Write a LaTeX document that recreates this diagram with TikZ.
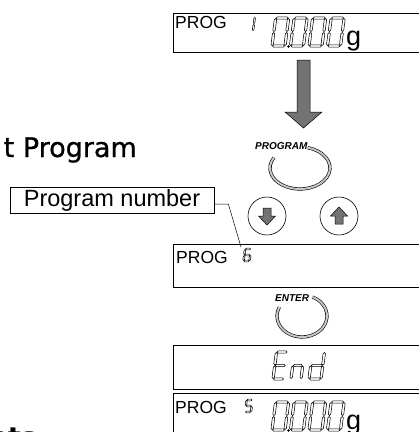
\documentclass[tikz,border=0pt]{standalone}
\usepackage{fontspec}
\setmainfont{Liberation Sans}
\newfontfamily\titlefont[FakeBold=0.8]{DejaVu Sans}
\tikzset{
  disp/.style={draw=black, line width=0.8pt},
  lcd/.style={draw=black, line width=0.55pt, fill=white, line join=miter},
  btnarc/.style={draw=black, line width=0.6pt, double=gray!45, double distance=2pt},
  btn/.style={circle, draw=black, line width=0.6pt, minimum size=38pt, inner sep=0pt},
  arrowfill/.style={fill=black!55, draw=black, line width=0.5pt},
  proglbl/.style={anchor=base west, font=\fontsize{17.5}{17.5}\selectfont, inner sep=0pt},
  keylbl/.style={font=\bfseries\itshape\fontsize{10}{10}\selectfont, inner sep=0pt},
}
% horizontal / vertical hexagonal LCD segments
\newcommand\lcdhseg[3]{\draw[lcd] ({#1},{#3}) -- ({#1+\lcdT},{#3-\lcdT}) -- ({#2-\lcdT},{#3-\lcdT}) -- ({#2},{#3}) -- ({#2-\lcdT},{#3+\lcdT}) -- ({#1+\lcdT},{#3+\lcdT}) -- cycle;}
\newcommand\lcdvseg[3]{\draw[lcd] ({#1},{#2}) -- ({#1+\lcdT},{#2+\lcdT}) -- ({#1+\lcdT},{#3-\lcdT}) -- ({#1},{#3}) -- ({#1-\lcdT},{#3-\lcdT}) -- ({#1-\lcdT},{#2+\lcdT}) -- cycle;}
\def\lcdsega{\lcdhseg{\lcdG}{\lcdW-\lcdG}{-\lcdH}}
\def\lcdsegb{\lcdvseg{\lcdW}{-\lcdH+\lcdG}{-\lcdH/2-\lcdG}}
\def\lcdsegc{\lcdvseg{\lcdW}{-\lcdH/2+\lcdG}{-\lcdG}}
\def\lcdsegd{\lcdhseg{\lcdG}{\lcdW-\lcdG}{0}}
\def\lcdsege{\lcdvseg{0}{-\lcdH/2+\lcdG}{-\lcdG}}
\def\lcdsegf{\lcdvseg{0}{-\lcdH+\lcdG}{-\lcdH/2-\lcdG}}
\def\lcdsegg{\lcdhseg{\lcdG}{\lcdW-\lcdG}{-\lcdH/2}}
% #1 half thickness, #2 x, #3 y(bottom), #4 width, #5 height, #6 segments
\newcommand\lcddigit[6]{%
  \begin{scope}[shift={(#2,#3)}, xslant=0.13]
    \def\lcdT{#1}\def\lcdG{0.5}\def\lcdW{#4}\def\lcdH{#5}%
    \foreach \s in {#6}{\csname lcdseg\s\endcsname}
  \end{scope}}
\begin{document}
\begin{tikzpicture}[x=1pt, y=-1pt]
\useasboundingbox (0,0) rectangle (419,432);
\clip (0,0) rectangle (419,432);

% title fragments
\node[anchor=base east, inner sep=0pt, font=\titlefont\fontsize{27}{27}\selectfont] (title) at (137,157) {t Program};
\node[anchor=base east, inner sep=0pt, font=\titlefont\bfseries\fontsize{27}{27}\selectfont] (bottomtitle) at (37,446.5) {nts};

% display 1
\draw[disp] (173,13) rectangle (440,52);
\node[proglbl] (prog1) at (175,28) {PROG};
\lcddigit{0.8}{248}{31}{5}{14}{b,c}
\foreach \xx in {272,290.5,309,327.5}{\lcddigit{1.2}{\xx}{46}{13}{28}{a,b,c,d,e,f}}
\fill (288.5,46.5) circle (1.3pt);
\node[anchor=base west, inner sep=0pt, font=\fontsize{27}{27}\selectfont] (g1) at (346,45) {g};

% big arrow
\draw[arrowfill] (297,60) -- (310,60) -- (310,112) -- (322,112) -- (303.5,128) -- (285,112) -- (297,112) -- cycle;

% PROGRAM key
\node[keylbl, anchor=base west] (prog) at (255,149) {PROGRAM};
\draw[btnarc] (300,168) ++(-75:30 and 21) arc[start angle=-75, end angle=210, x radius=30, y radius=21];

% up / down keys
\node[btn] (dn) at (267,216) {};
\node[btn] (up) at (339,216) {};
\draw[arrowfill] (263,208) -- (271,208) -- (271,216) -- (275.5,216) -- (267,225) -- (258.5,216) -- (263,216) -- cycle;
\draw[arrowfill] (335,224) -- (343,224) -- (343,216) -- (347.5,216) -- (339,207) -- (330.5,216) -- (335,216) -- cycle;

% Program number callout
\node[draw=black, line width=0.7pt, minimum width=204pt, minimum height=26pt, inner sep=0pt,
      font=\fontsize{23.5}{23.5}\selectfont] (pn) at (112,200) {Program number};
\coordinate (six) at (241,247);
\draw[line width=0.5pt] ([yshift=-4pt]pn.east) -- ++(14,0) -- (six);

% display 2
\draw[disp] (173,244) rectangle (440,287);
\node[proglbl] (prog2) at (176,263) {PROG};
\lcddigit{0.8}{243.5}{261}{6}{12}{a,c,d,e,f,g}

% ENTER key
\node[keylbl, anchor=base west] (enter) at (275,301) {ENTER};
\draw[btnarc] (302,316) ++(-65:25 and 21) arc[start angle=-65, end angle=205, x radius=25, y radius=21];

% display 3: End
\draw[disp] (173,345) rectangle (440,389.5);
\lcddigit{1.2}{273}{379}{11}{27}{a,d,e,f,g}
\lcddigit{1.2}{291}{379}{10}{27}{c,e,g}
\lcddigit{1.2}{309}{379}{12}{27}{b,c,d,e,g}

% display 4
\draw[disp] (173,393) rectangle (440,460);
\node[proglbl] (prog4) at (175,413) {PROG};
\lcddigit{0.8}{245}{412}{6}{12}{a,c,d,f,g}
\foreach \xx in {272,290.5,309,327.5}{\lcddigit{1.2}{\xx}{430}{13}{28}{a,b,c,d,e,f}}
\fill (288.5,430.5) circle (1.3pt);
\node[anchor=base west, inner sep=0pt, font=\fontsize{27}{27}\selectfont] (g4) at (346,429) {g};
\end{tikzpicture}
\end{document}
